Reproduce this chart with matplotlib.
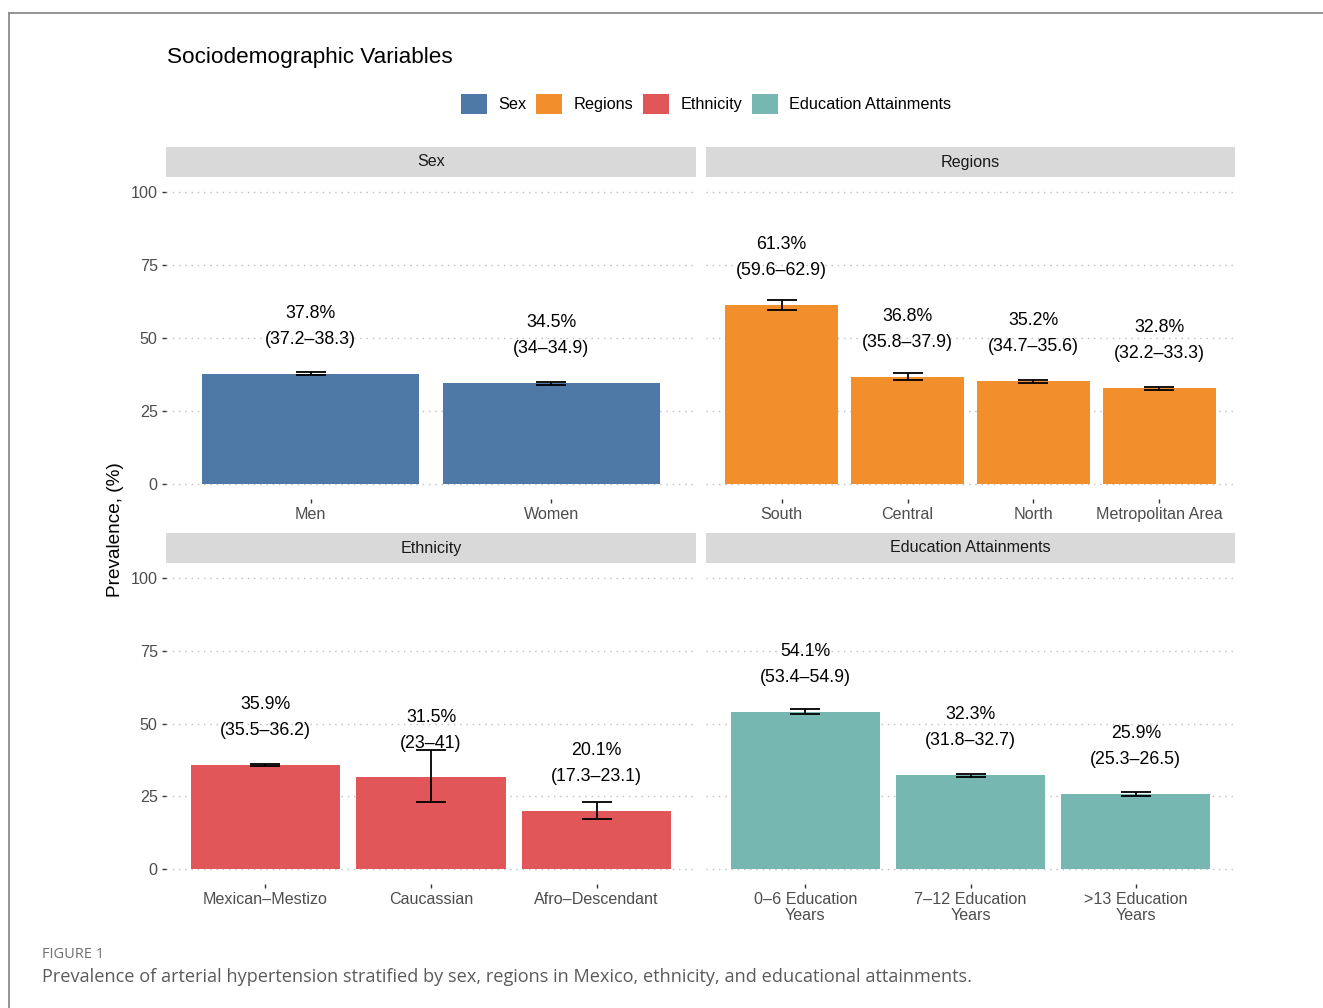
import numpy as np
import matplotlib.pyplot as plt
from matplotlib.patches import Patch
from matplotlib.lines import Line2D

plt.rcParams['font.family'] = ['Liberation Sans', 'DejaVu Sans']

# Data
sex_labels = ['Men', 'Women']
sex_vals = [37.8, 34.5]
sex_lo = [37.2, 34.0]
sex_hi = [38.3, 34.9]
sex_ci = ['(37.2–38.3)', '(34–34.9)']

region_labels = ['South', 'Central', 'North', 'Metropolitan Area']
region_vals = [61.3, 36.8, 35.2, 32.8]
region_lo = [59.6, 35.8, 34.7, 32.2]
region_hi = [62.9, 37.9, 35.6, 33.3]
region_ci = ['(59.6–62.9)', '(35.8–37.9)', '(34.7–35.6)', '(32.2–33.3)']

eth_labels = ['Mexican–Mestizo', 'Caucassian', 'Afro–Descendant']
eth_vals = [35.9, 31.5, 20.1]
eth_lo = [35.5, 23.0, 17.3]
eth_hi = [36.2, 41.0, 23.1]
eth_ci = ['(35.5–36.2)', '(23–41)', '(17.3–23.1)']

edu_labels = ['0–6 Education\nYears', '7–12 Education\nYears', '>13 Education\nYears']
edu_vals = [54.1, 32.3, 25.9]
edu_lo = [53.4, 31.8, 25.3]
edu_hi = [54.9, 32.7, 26.5]
edu_ci = ['(53.4–54.9)', '(31.8–32.7)', '(25.3–26.5)']

groups = ['Sex', 'Regions', 'Ethnicity', 'Education Attainments']
colors = ['#4E79A7', '#F28E2B', '#E15759', '#76B7B2']

W, H = 1323, 1008
fig = plt.figure(figsize=(W / 100, H / 100), dpi=100)


def px_axes(x0, y0, x1, y1):
    return fig.add_axes([x0 / W, 1 - y1 / H, (x1 - x0) / W, (y1 - y0) / H])


panels = [
    (sex_labels, sex_vals, sex_lo, sex_hi, sex_ci, (166, 177, 696, 499), True),
    (region_labels, region_vals, region_lo, region_hi, region_ci, (706, 177, 1235, 499), False),
    (eth_labels, eth_vals, eth_lo, eth_hi, eth_ci, (166, 563, 696, 884), True),
    (edu_labels, edu_vals, edu_lo, edu_hi, edu_ci, (706, 563, 1235, 884), False),
]

for i, (labels, vals, lo, hi, ci, box, show_y) in enumerate(panels):
    ax = px_axes(*box)
    n = len(labels)
    x = np.arange(1, n + 1)
    vals = np.array(vals)
    yerr = [vals - np.array(lo), np.array(hi) - vals]
    for y in [0, 25, 50, 75, 100]:
        ax.axhline(y, color='#BDBDBD', lw=1.0, ls=(0, (1, 3.5)), zorder=0)
    ax.bar(x, vals, width=0.9, color=colors[i], zorder=2)
    ax.errorbar(x, vals, yerr=yerr, fmt='none', ecolor='black', elinewidth=1.3,
                capsize=11, capthick=1.3, zorder=3)
    for xi, v, c in zip(x, vals, ci):
        ax.text(xi, v + 20.7, f'{v:.1f}%', ha='center', va='center', fontsize=12.8)
        ax.text(xi, v + 11.8, c, ha='center', va='center', fontsize=12.8)
    ax.set_xlim(0.4, n + 0.6)
    ax.set_ylim(-5, 105)
    ax.set_xticks(x)
    ax.set_xticklabels(labels, fontsize=11.6, color='#4D4D4D', linespacing=1.08)
    ax.set_yticks([0, 25, 50, 75, 100])
    ax.tick_params(axis='both', length=3, width=1, color='#333333', pad=3)
    if show_y:
        ax.set_yticklabels(['0', '25', '50', '75', '100'], fontsize=11.6, color='#4D4D4D')
    else:
        ax.tick_params(axis='y', length=0, labelleft=False)
    for s in ax.spines.values():
        s.set_visible(False)
    # facet strip
    sx0, sy0, sx1, sy1 = box[0], box[1] - 30, box[2], box[1]
    fig.patches.append(plt.Rectangle((sx0 / W, 1 - sy1 / H), (sx1 - sx0) / W, (sy1 - sy0) / H,
                                     transform=fig.transFigure, facecolor='#D9D9D9',
                                     edgecolor='none'))
    fig.text((sx0 + sx1) / 2 / W, 1 - (sy0 + sy1) / 2 / H, groups[i], ha='center', va='center',
             fontsize=11.6, color='#1A1A1A')

fig.text(167 / W, 1 - 58 / H, 'Sociodemographic Variables', ha='left', va='center', fontsize=16.2)
fig.text(116 / W, 1 - 530 / H, 'Prevalence, (%)', rotation=90, ha='center', va='center',
         fontsize=13.7)

handles = [Patch(facecolor=c, edgecolor='none') for c in colors]
fig.legend(handles, groups, loc='center', bbox_to_anchor=(706 / W, 1 - 104 / H), ncol=4,
           frameon=False, fontsize=11.7, handlelength=1.6, handleheight=1.6, handletextpad=0.7,
           columnspacing=0.6)

# outer frame
fig.add_artist(Line2D([9 / W, 1], [1 - 13 / H, 1 - 13 / H], color='#8C8C8C', lw=1.3,
                      transform=fig.transFigure))
fig.add_artist(Line2D([9 / W, 9 / W], [0, 1 - 13 / H], color='#8C8C8C', lw=1.3,
                      transform=fig.transFigure))

fig.text(42 / W, 1 - 955 / H, 'FIGURE 1', ha='left', va='center', fontsize=10.5,
         color='#6E6E6E', family=['Open Sans', 'DejaVu Sans'])
fig.text(42 / W, 1 - 977 / H,
         'Prevalence of arterial hypertension stratified by sex, regions in Mexico, ethnicity, and educational attainments.',
         ha='left', va='center', fontsize=13.1, color='#5A5A5A', family=['Open Sans', 'DejaVu Sans'])

fig.savefig('out.png', dpi=100)
